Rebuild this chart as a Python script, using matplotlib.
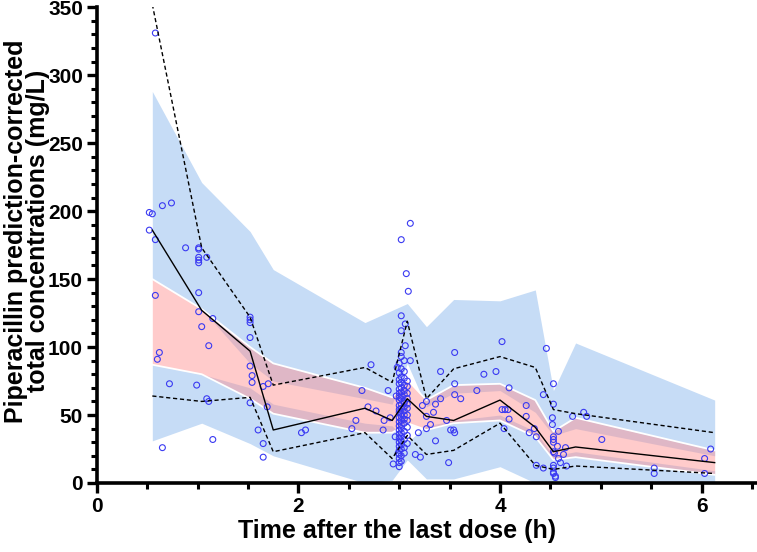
import matplotlib
matplotlib.use("Agg")
from matplotlib import pyplot as plt
from matplotlib.ticker import MultipleLocator

plt.rcParams["font.family"] = ["Liberation Sans", "DejaVu Sans"]
plt.rcParams["font.weight"] = "bold"

# bin midpoints (h)
bins = [0.55, 1.04, 1.52, 1.75, 2.66, 2.93, 3.08, 3.27, 3.54, 4.00, 4.35, 4.53, 4.75, 6.13]

# observed percentiles (lines)
obs_p50 = [186, 127, 97, 39, 55, 46, 62, 49, 46, 61, 41, 23, 26.5, 15]
obs_p95 = [352, 173, 122, 72, 85, 74, 119, 62, 84, 93, 85, 54, 51, 37]
obs_p05 = [64, 60, 63, 23, 37, 18, 35, 21, 24, 44, 13, 10, 12.5, 7]

# simulated CI of the median (pink)
med_hi = [150, 128, 100, 88, 70, 63, 76, 61, 72, 73, 61, 38, 48, 24]
med_lo = [87, 80, 62, 51, 37, 37, 44, 39, 44, 46, 34, 17, 19, 6]

# simulated CI of the 95th percentile (blue, top)
p95_hi = [288, 221, 185, 157, 118, 127, 132, 115, 135, 134, 142, 68, 103, 61]
p95_lo = [150, 128, 88, 75, 62, 58, 88, 56, 66, 68, 52, 35, 40, 20]

# simulated CI of the 5th percentile (blue, bottom)
p05_hi = [87, 80, 70, 58, 44, 42, 30, 42, 46, 50, 38, 20, 23, 9]
p05_lo = [31, 44, 29, 20, 0, 2, 17, 3, 3, 12, 0, 0, 0, 0]

# observed prediction-corrected concentrations
obs_t = [0.58, 0.65, 0.74, 0.52, 0.55, 0.52, 0.58, 0.88, 1.01, 1.01, 1.01, 1.01, 1.01,
         1.09, 0.58, 1.01, 0.62, 0.60, 0.72, 0.65, 0.99, 1.01, 1.04, 1.11, 1.15, 1.09,
         1.11, 1.15, 1.52, 1.52, 1.52, 1.52, 1.52, 1.54, 1.54, 1.52, 1.65, 1.70, 1.69,
         1.60, 1.65, 1.65, 2.03, 2.07,
         2.53, 2.57, 2.63, 2.69, 2.72, 2.77, 2.84, 2.85, 2.89, 2.91, 2.94, 2.96, 2.97,
         2.99,
         3.11, 3.02, 3.07, 3.09, 3.02, 3.02, 3.06, 3.06, 3.02, 3.02, 3.05, 3.11, 2.98,
         3.00, 3.00, 3.00, 3.00, 3.00, 3.00, 3.00, 3.00, 3.00, 3.00, 3.00, 3.00, 3.00,
         3.00, 3.00, 3.00, 3.00, 3.00, 3.00, 3.00, 3.00, 3.00, 3.00, 3.00,
         3.02, 3.02, 3.02, 3.02, 3.02, 3.02, 3.02, 3.02, 3.02, 3.02, 3.02, 3.02, 3.02,
         3.02, 3.02, 3.02, 3.02, 3.02, 3.02, 3.02, 3.02,
         3.05, 3.05, 3.05, 3.05, 3.05, 3.05, 3.05, 3.05, 3.05, 3.05, 3.05, 3.05, 3.05,
         3.05, 3.05, 3.05,
         3.08, 3.08, 3.08, 3.08, 3.08, 3.08, 3.08, 3.08, 3.08, 3.08, 3.08,
         3.16, 3.21, 3.19, 3.27, 3.27, 3.31, 3.34, 3.36, 3.41, 3.41, 3.36, 3.49, 3.47,
         3.51, 3.54, 3.55, 3.55, 3.55, 3.55, 3.61, 3.77, 3.84, 3.96, 4.02, 4.02, 4.05,
         4.08, 4.04, 4.09, 4.09, 4.26, 4.26, 4.29, 3.27, 3.23,
         4.46, 4.53, 4.53, 4.52, 4.52, 4.43, 4.36, 4.43, 4.53, 4.54, 4.53, 4.53, 4.55,
         4.53, 4.53, 4.57, 4.36, 4.34, 4.58, 4.53, 4.65, 4.58, 4.63, 4.60, 4.66, 4.53,
         4.53, 4.55, 4.72, 4.83, 4.86, 5.01, 5.53, 5.53, 6.03, 6.09, 6.03]
obs_c = [331, 204, 206, 199, 198, 186, 179, 173, 173, 172, 166, 164, 162,
         166, 138, 140, 96, 91, 73, 26, 72, 126, 115, 101, 121, 62,
         60, 32, 122, 120, 118, 107, 86, 79, 74, 59, 71, 73, 56,
         39, 29, 19, 37, 39,
         40, 46, 68, 56, 87, 53, 39, 46, 68, 48, 14, 34, 64,
         22,
         191, 179, 154, 141, 123, 112, 117, 101, 96, 93, 90, 90, 85,
         88, 81, 76, 73, 69, 66, 63, 61, 57, 54, 52, 48, 45,
         42, 39, 36, 33, 30, 27, 24, 21, 18, 15, 12,
         84, 78, 74, 70, 67, 64, 62, 58, 55, 51, 49, 46, 43,
         40, 37, 34, 31, 28, 25, 20, 16,
         82, 77, 72, 68, 65, 60, 59, 56, 53, 50, 47, 44, 38,
         32, 26, 22,
         75, 71, 66, 62, 58, 55, 50, 46, 41, 35, 29,
         21, 19, 37, 60, 49, 43, 52, 58, 62, 82, 31, 15, 46,
         39, 39, 37, 73, 65, 96, 62, 68, 80, 82, 104, 54, 54,
         54, 40, 70, 47, 57, 49, 37, 40, 57,
         99, 73, 58, 48, 43, 65, 13, 11, 23, 22, 13, 8, 4,
         34, 32, 27, 34, 40, 38, 30, 26, 18, 21, 15, 12.5, 11,
         7, 5, 49, 52, 49, 32, 11, 7, 18, 25, 7]

blue = "#c6dcf6"
fig = plt.figure(figsize=(7.57, 5.52), dpi=100)
ax = fig.add_axes([0.128, 0.125, 0.872, 0.862])

ax.fill_between(bins, p05_lo, p05_hi, color=blue, lw=0, zorder=1)
ax.fill_between(bins, p95_lo, p95_hi, color=blue, lw=0, zorder=1)
ax.fill_between(bins, med_lo, med_hi, color="#ff8c8c", alpha=0.45, lw=0, zorder=2)
ax.plot(bins, med_hi, color="white", lw=1.3, zorder=2.5)
ax.plot(bins, med_lo, color="white", lw=1.3, zorder=2.5)

ax.scatter(obs_t, obs_c, s=18, facecolors="none", edgecolors="#3a3af2",
           linewidths=0.8, zorder=3)

ax.plot(bins, obs_p50, color="black", lw=1.0, zorder=4)
ax.plot(bins, obs_p95, color="black", lw=1.0, ls=(0, (3, 2)), zorder=4)
ax.plot(bins, obs_p05, color="black", lw=1.0, ls=(0, (3, 2)), zorder=4)

ax.set_xlim(0, 6.55)
ax.set_ylim(0, 350)
ax.xaxis.set_major_locator(MultipleLocator(2))
ax.xaxis.set_minor_locator(MultipleLocator(0.5))
ax.yaxis.set_major_locator(MultipleLocator(50))
ax.yaxis.set_minor_locator(MultipleLocator(10))

for side in ["top", "right"]:
    ax.spines[side].set_visible(False)
for side in ["left", "bottom"]:
    ax.spines[side].set_linewidth(2.6)
    ax.spines[side].set_zorder(5)
ax.tick_params(which="major", length=7, width=2.4, labelsize=15, pad=3)
ax.tick_params(which="minor", length=4.5, width=2.2)

ax.set_xlabel("Time after the last dose (h)", fontsize=18, fontweight="bold")
ax.xaxis.set_label_coords(0.455, -0.075)
ax.set_ylabel("Piperacillin prediction-corrected\ntotal concentrations (mg/L)",
              fontsize=18, fontweight="bold", linespacing=0.9)
ax.yaxis.set_label_coords(-0.071, 0.53)

fig.savefig("out.png", dpi=100)
